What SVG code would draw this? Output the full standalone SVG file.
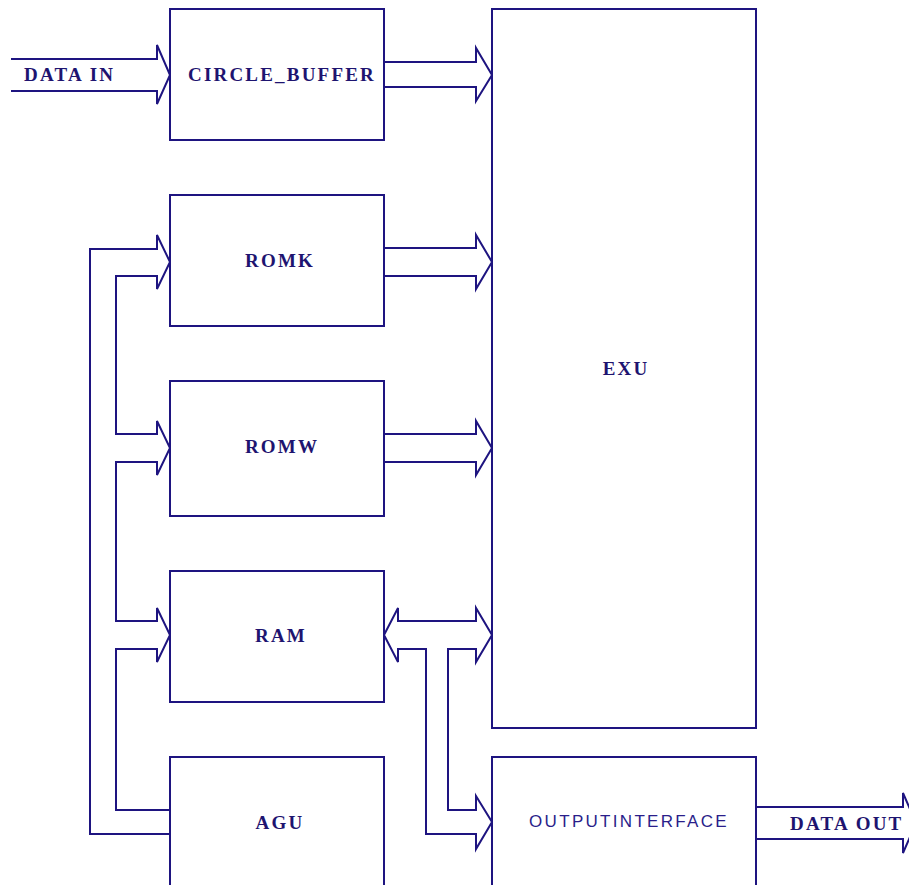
<svg xmlns="http://www.w3.org/2000/svg" width="909" height="885" viewBox="0 0 909 885">
<style>
.box{fill:#fff;stroke:#1e1480;stroke-width:2}
.ln{fill:none;stroke:#1e1480;stroke-width:2;stroke-linejoin:miter}
.t{font-family:"Liberation Serif",serif;font-weight:bold;font-size:19px;letter-spacing:2.2px;fill:#1e1470}
.s{font-family:"Liberation Sans",sans-serif;font-size:17px;letter-spacing:2.3px;fill:#2a1e8a}
</style>
<rect width="909" height="885" fill="#fff"/>
<g id="connectors">
<path class="ln" d="M11,59 H157 V45 L170,75 L157,104 V91 H11"/>
<path class="ln" d="M384,62 H476 V48 L492,75 L476,101 V87 H384"/>
<path class="ln" d="M384,248 H476 V235 L492,262 L476,289 V276 H384"/>
<path class="ln" d="M384,434 H476 V421 L492,448 L476,475 V462 H384"/>
<path class="ln" d="M426,834 V649 H398 V662 L384,635 L398,608 V621 H476 V608 L492,635 L476,662 V649 H448 V810 H476 V796 L492,822 L476,849 V834 Z"/>
<path class="ln" d="M756,807 H903 V793 L916,823 L903,853 V839 H756"/>
<path class="ln" d="M170,834 H90 V249 H157 V235 L170,262 L157,289 V276 H116 V434 H157 V421 L170,448 L157,475 V462 H116 V621 H157 V608 L170,635 L157,662 V649 H116 V810 H170"/>
</g>
<g id="circle_buffer"><rect class="box" x="170" y="9" width="214" height="131"/><text class="t" x="282" y="81" text-anchor="middle">CIRCLE_BUFFER</text></g>
<g id="romk"><rect class="box" x="170" y="195" width="214" height="131"/><text class="t" x="280" y="267" text-anchor="middle">ROMK</text></g>
<g id="romw"><rect class="box" x="170" y="381" width="214" height="135"/><text class="t" x="282" y="453" text-anchor="middle">ROMW</text></g>
<g id="ram"><rect class="box" x="170" y="571" width="214" height="131"/><text class="t" x="281" y="642" text-anchor="middle">RAM</text></g>
<g id="agu"><rect class="box" x="170" y="757" width="214" height="140"/><text class="t" x="280" y="829" text-anchor="middle">AGU</text></g>
<g id="exu"><rect class="box" x="492" y="9" width="264" height="719"/><text class="t" x="626" y="375" text-anchor="middle">EXU</text></g>
<g id="outputinterface"><rect class="box" x="492" y="757" width="264" height="140"/><text class="s" x="629" y="827" text-anchor="middle">OUTPUTINTERFACE</text></g>
<g id="labels">
<text class="t" x="24" y="81">DATA IN</text>
<text class="t" x="790" y="830">DATA OUT</text>
</g>
</svg>
